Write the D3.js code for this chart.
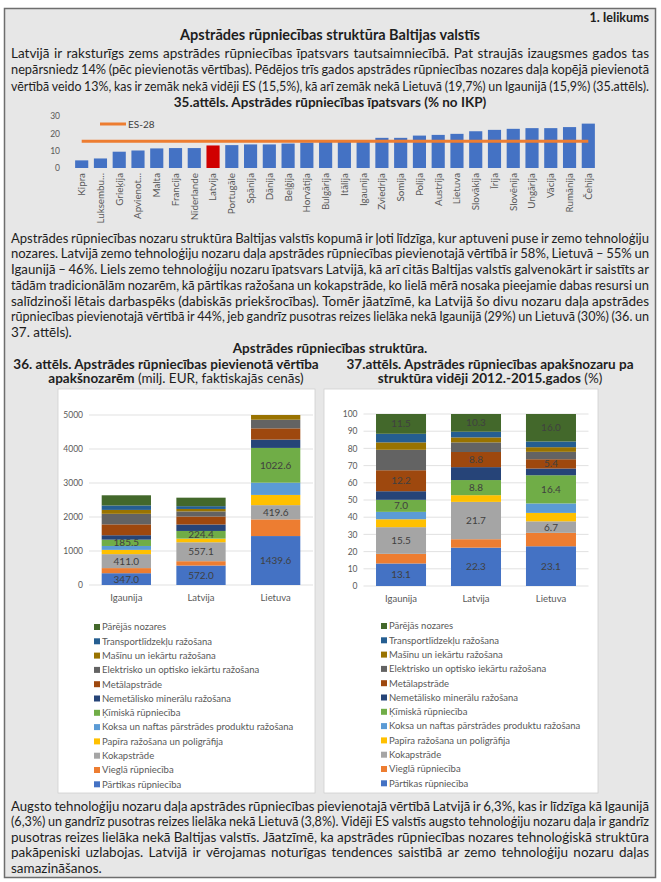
<!DOCTYPE html>
<html>
<head>
<meta charset="utf-8">
<script src="https://cdn.jsdelivr.net/npm/d3@7"></script>
<style>
body { margin: 0; background: #fff; }
svg text { font-family: Lato, "Open Sans", sans-serif; }
</style>
</head>
<body>
<svg id="page" width="661" height="882"></svg>
<script>
// 35. attēls
const countries = ['Kipra', 'Luksembu...', 'Grieķija', 'Apvienot...', 'Malta', 'Francija', 'Nīderlande', 'Latvija',
    'Portugāle', 'Spānija', 'Dānija', 'Beļģija', 'Horvātija', 'Bulgārija', 'Itālija', 'Igaunija', 'Zviedrija',
    'Somija', 'Polija', 'Austrija', 'Lietuva', 'Slovākija', 'Īrija', 'Slovēnija', 'Ungārija', 'Vācija', 'Rumānija', 'Čehija'];
const shareOfGdp = [4.4, 5.5, 9.4, 10.1, 11.3, 11.5, 11.5, 13.0, 13.2, 13.6, 13.6, 14.1, 14.7, 15.0, 15.1, 15.9, 17.4,
    17.4, 18.7, 19.1, 19.7, 21.2, 22.0, 22.6, 23.0, 23.0, 23.6, 25.6];
const es28 = 15.5;
const yTicks35 = [0, 10, 20, 30];

// 36. un 37. attēls
const baltics = ['Igaunija', 'Latvija', 'Lietuva'];
const sectors = ['Pārtikas rūpniecība', 'Vieglā rūpniecība', 'Kokapstrāde', 'Papīra ražošana un poligrāfija',
    'Koksa un naftas pārstrādes produktu ražošana', 'Ķīmiskā rūpniecība', 'Nemetālisko minerālu ražošana',
    'Metālapstrāde', 'Elektrisko un optisko iekārtu ražošana', 'Mašīnu un iekārtu ražošana',
    'Transportlīdzekļu ražošana', 'Pārējās nozares'];
const sectorColors = ['#4472C4', '#ED7D31', '#A5A5A5', '#FFC000', '#5B9BD5', '#70AD47',
    '#264478', '#9E480E', '#636363', '#997300', '#255E91', '#43682B'];

// milj. EUR
const valuesIgaunija = [347.0, 150, 411.0, 125, 115, 185.5, 130, 320, 310, 115, 130, 300];
const valuesLatvija = [572.0, 128, 557.1, 105, 3, 224.4, 190, 235, 150, 72, 82, 250];
const valuesLietuva = [1439.6, 490, 419.6, 300, 360, 1022.6, 245, 330, 255, 170, 206, 997];
const labelled36 = [0, 2, 5];
const yTicks36 = [0, 1000, 2000, 3000, 4000, 5000];

// %
const sharesIgaunija = [13.1, 5.6, 15.5, 4.6, 4.3, 7.0, 5.0, 12.2, 11.9, 4.3, 5.0, 11.5];
const sharesLatvija = [22.3, 4.9, 21.7, 3.9, 0.0, 8.8, 7.5, 8.8, 5.6, 2.9, 3.3, 10.3];
const sharesLietuva = [23.1, 7.8, 6.7, 4.9, 5.5, 16.4, 3.9, 5.4, 4.3, 2.7, 3.3, 16.0];
const labelled37 = [0, 2, 5, 7, 11];
const yTicks37 = [0, 10, 20, 30, 40, 50, 60, 70, 80, 90, 100];

// teksts
const para1 = [
    'Latvijā ir raksturīgs zems apstrādes rūpniecības īpatsvars tautsaimniecībā. Pat straujās izaugsmes gados tas',
    'nepārsniedz 14% (pēc pievienotās vērtības). Pēdējos trīs gados apstrādes rūpniecības nozares daļa kopējā pievienotā',
    'vērtībā veido 13%, kas ir zemāk nekā vidēji ES (15,5%), kā arī zemāk nekā Lietuvā (19,7%) un Igaunijā (15,9%) (35.attēls).'
];
const para2 = [
    'Apstrādes rūpniecības nozaru struktūra Baltijas valstīs kopumā ir ļoti līdzīga, kur aptuveni puse ir zemo tehnoloģiju',
    'nozares. Latvijā zemo tehnoloģiju nozaru daļa apstrādes rūpniecības pievienotajā vērtībā ir 58%, Lietuvā – 55% un',
    'Igaunijā – 46%. Liels zemo tehnoloģiju nozaru īpatsvars Latvijā, kā arī citās Baltijas valstīs galvenokārt ir saistīts ar',
    'tādām tradicionālām nozarēm, kā pārtikas ražošana un kokapstrāde, ko lielā mērā nosaka pieejamie dabas resursi un',
    'salīdzinoši lētais darbaspēks (dabiskās priekšrocības). Tomēr jāatzīmē, ka Latvijā šo divu nozaru daļa apstrādes',
    'rūpniecības pievienotajā vērtībā ir 44%, jeb gandrīz pusotras reizes lielāka nekā Igaunijā (29%) un Lietuvā (30%) (36. un',
    '37. attēls).'
];
const para3 = [
    'Augsto tehnoloģiju nozaru daļa apstrādes rūpniecības pievienotajā vērtībā Latvijā ir 6,3%, kas ir līdzīga kā Igaunijā',
    '(6,3%) un gandrīz pusotras reizes lielāka nekā Lietuvā (3,8%). Vidēji ES valstīs augsto tehnoloģiju nozaru daļa ir gandrīz',
    'pusotras reizes lielāka nekā Baltijas valstīs. Jāatzīmē, ka apstrādes rūpniecības nozares tehnoloģiskā struktūra',
    'pakāpeniski uzlabojas. Latvijā ir vērojamas noturīgas tendences saistībā ar zemo tehnoloģiju nozaru daļas',
    'samazināšanos.'
];

const svg = d3.select('#page');
const ink = '#1e1e1e';
const axisInk = '#595959';
const bodySize = 13.5;

svg.append('rect')
    .attr('x', 4.5).attr('y', 8.5).attr('width', 651).attr('height', 869)
    .attr('fill', '#e7e7e7').attr('stroke', '#6e6e6e').attr('stroke-width', 1.5);

// justified lines: words placed one by one
const measure = svg.append('text').attr('font-size', bodySize).attr('visibility', 'hidden');
function wordWidth(w) {
    measure.text(w);
    return measure.node().getComputedTextLength();
}
function paragraph(lines, y0, step) {
    const left = 11, right = 649;
    lines.forEach((line, i) => {
        const y = y0 + i * step;
        const last = i === lines.length - 1 && line.length < 60;
        if (last) {
            svg.append('text').attr('x', left).attr('y', y).attr('dy', '0.35em')
                .attr('font-size', bodySize).attr('fill', ink).text(line);
            return;
        }
        const words = line.split(' ');
        let widths = words.map(wordWidth);
        let scale = 1;
        const minGap = 2.6;
        const room = right - left - minGap * (words.length - 1);
        if (d3.sum(widths) > room) scale = room / d3.sum(widths);
        widths = widths.map(w => w * scale);
        const gap = (right - left - d3.sum(widths)) / (words.length - 1);
        let x = left;
        words.forEach((w, j) => {
            const t = svg.append('text').attr('x', x).attr('y', y).attr('dy', '0.35em')
                .attr('font-size', bodySize).attr('fill', ink).text(w);
            if (scale < 1) t.attr('textLength', widths[j]).attr('lengthAdjust', 'spacingAndGlyphs');
            x += widths[j] + gap;
        });
    });
}
function heading(str, x, y, size, anchor) {
    svg.append('text').attr('x', x).attr('y', y).attr('dy', '0.35em')
        .attr('font-size', size).attr('font-weight', 'bold').attr('fill', ink)
        .attr('text-anchor', anchor || 'middle').text(str);
}

heading('1. Ielikums', 649, 18, 12.5, 'end');
heading('Apstrādes rūpniecības struktūra Baltijas valstīs', 330, 35, 14.5);
paragraph(para1, 53, 16.5);
heading('35.attēls. Apstrādes rūpniecības īpatsvars (% no IKP)', 330, 102, 13.5);

// ---- 35. attēls ----
const x35 = d3.scaleBand().domain(countries).range([69.5, 600.5]).padding(0.3);
const y35 = d3.scaleLinear().domain([0, 30]).range([168, 116]);

svg.append('g').selectAll('rect')
    .data(countries)
    .join('rect')
    .attr('x', d => x35(d))
    .attr('y', (d, i) => y35(shareOfGdp[i]))
    .attr('width', x35.bandwidth())
    .attr('height', (d, i) => y35(0) - y35(shareOfGdp[i]))
    .attr('fill', d => d === 'Latvija' ? '#D00000' : '#4472C4');

const esLine = d3.line()
    .x(d => x35(d) + x35.bandwidth() / 2)
    .y(() => y35(es28));
svg.append('path')
    .datum(countries)
    .attr('d', esLine)
    .attr('fill', 'none')
    .attr('stroke', '#ED7D31')
    .attr('stroke-width', 3);

const yAxis35 = svg.append('g')
    .attr('transform', 'translate(62,0)')
    .call(d3.axisLeft(y35).tickValues(yTicks35).tickSize(0).tickPadding(2));
yAxis35.select('.domain').remove();
yAxis35.selectAll('text').attr('font-size', 8.5).attr('fill', axisInk).style('font-family', 'Lato, sans-serif');

const xAxis35 = svg.append('g')
    .attr('transform', 'translate(0,168)')
    .call(d3.axisBottom(x35).tickSize(0));
xAxis35.select('.domain').remove();
xAxis35.selectAll('text')
    .attr('transform', 'rotate(-90)')
    .attr('text-anchor', 'end')
    .attr('x', -5).attr('y', 0).attr('dy', '0.35em')
    .attr('font-size', 9.8).attr('fill', axisInk)
    .style('font-family', 'Lato, sans-serif');

svg.append('line').attr('x1', 100).attr('x2', 126).attr('y1', 124).attr('y2', 124)
    .attr('stroke', '#ED7D31').attr('stroke-width', 3);
svg.append('text').attr('x', 128).attr('y', 124).attr('dy', '0.35em')
    .attr('font-size', 10).attr('fill', '#404040').text('ES-28');

paragraph(para2, 238, 15.7);
heading('Apstrādes rūpniecības struktūra.', 330, 348, 13.5);

// chart titles
heading('36. attēls. Apstrādes rūpniecības pievienotā vērtība', 166, 364, 13.5);
const t36 = svg.append('text').attr('x', 176).attr('y', 378.5).attr('dy', '0.35em')
    .attr('font-size', 13.5).attr('fill', ink).attr('text-anchor', 'middle');
t36.append('tspan').attr('font-weight', 'bold').text('apakšnozarēm');
t36.append('tspan').text(' (milj. EUR, faktiskajās cenās)');

heading('37.attēls. Apstrādes rūpniecības apakšnozaru pa', 490, 364, 13.5);
const t37 = svg.append('text').attr('x', 490).attr('y', 378.5).attr('dy', '0.35em')
    .attr('font-size', 13.5).attr('fill', ink).attr('text-anchor', 'middle');
t37.append('tspan').attr('font-weight', 'bold').text('struktūra vidēji 2012.-2015.gados');
t37.append('tspan').text(' (%)');

// panels
svg.append('rect').attr('x', 58).attr('y', 389).attr('width', 257).attr('height', 404)
    .attr('fill', '#fff').attr('stroke', '#d0d0d0').attr('stroke-width', 0.8);
svg.append('rect').attr('x', 324).attr('y', 389).attr('width', 274).attr('height', 404)
    .attr('fill', '#fff').attr('stroke', '#d0d0d0').attr('stroke-width', 0.8);

function stackedChart(opts) {
    const rows = baltics.map((c, ci) => {
        const row = { country: c };
        sectors.forEach((s, si) => { row[s] = opts.series[ci][si]; });
        return row;
    });
    const stacked = d3.stack().keys(sectors)(rows);
    const x = d3.scaleBand().domain(baltics).range(opts.xRange)
        .paddingInner(opts.padInner).paddingOuter(opts.padOuter);
    const y = d3.scaleLinear().domain(opts.yDomain).range([opts.y0, opts.y1]);

    const grid = svg.append('g');
    grid.selectAll('line')
        .data(opts.ticks)
        .join('line')
        .attr('x1', opts.xRange[0]).attr('x2', opts.xRange[1])
        .attr('y1', d => y(d)).attr('y2', d => y(d))
        .attr('stroke', '#d9d9d9').attr('stroke-width', 0.8);

    const yAxis = svg.append('g')
        .attr('transform', `translate(${opts.xRange[0] - 3},0)`)
        .call(d3.axisLeft(y).tickValues(opts.ticks).tickFormat(d3.format('d')).tickSize(0).tickPadding(3));
    yAxis.select('.domain').remove();
    yAxis.selectAll('text').attr('font-size', 8.5).attr('fill', axisInk).style('font-family', 'Lato, sans-serif');

    const clipId = 'clip' + opts.id;
    svg.append('clipPath').attr('id', clipId).append('rect')
        .attr('x', opts.xRange[0]).attr('y', opts.y1)
        .attr('width', opts.xRange[1] - opts.xRange[0]).attr('height', opts.y0 - opts.y1);

    const bars = svg.append('g').attr('clip-path', `url(#${clipId})`);
    bars.selectAll('g')
        .data(stacked)
        .join('g')
        .attr('fill', (d, i) => sectorColors[i])
        .selectAll('rect')
        .data(d => d)
        .join('rect')
        .attr('x', d => x(d.data.country))
        .attr('y', d => y(d[1]))
        .attr('width', x.bandwidth())
        .attr('height', d => y(d[0]) - y(d[1]));

    const labels = svg.append('g').attr('clip-path', `url(#${clipId})`);
    stacked.filter((s, i) => opts.labelled.includes(i)).forEach(s => {
        labels.selectAll(null)
            .data(s)
            .join('text')
            .attr('x', d => x(d.data.country) + x.bandwidth() / 2)
            .attr('y', d => y((d[0] + d[1]) / 2))
            .attr('dy', '0.35em')
            .attr('text-anchor', 'middle')
            .attr('font-size', 10)
            .attr('fill', '#404040')
            .text(d => (d[1] - d[0]).toFixed(1));
    });

    const xAxis = svg.append('g')
        .attr('transform', `translate(0,${opts.y0})`)
        .call(d3.axisBottom(x).tickSize(0).tickPadding(9));
    xAxis.select('.domain').remove();
    xAxis.selectAll('text').attr('font-size', 9.5).attr('fill', axisInk).style('font-family', 'Lato, sans-serif');

    const legend = svg.append('g');
    const items = sectors.map((s, i) => ({ s, c: sectorColors[i] })).reverse();
    items.forEach((d, i) => {
        const ly = opts.legendY + i * 14.3;
        legend.append('rect').attr('x', opts.legendX).attr('y', ly - 3).attr('width', 6).attr('height', 6).attr('fill', d.c);
        legend.append('text').attr('x', opts.legendX + 8).attr('y', ly).attr('dy', '0.35em')
            .attr('font-size', 9.5).attr('fill', axisInk).text(d.s);
    });
}

stackedChart({
    id: 36,
    series: [valuesIgaunija, valuesLatvija, valuesLietuva],
    labelled: labelled36,
    ticks: yTicks36,
    yDomain: [0, 5000],
    y0: 585, y1: 415,
    xRange: [89, 313], padInner: 0.34, padOuter: 0.17,
    legendX: 94, legendY: 627
});
stackedChart({
    id: 37,
    series: [sharesIgaunija, sharesLatvija, sharesLietuva],
    labelled: labelled37,
    ticks: yTicks37,
    yDomain: [0, 100],
    y0: 586, y1: 414,
    xRange: [363.5, 588.5], padInner: 0.333, padOuter: 0.167,
    legendX: 381, legendY: 626
});

paragraph(para3, 806, 15.5);
</script>
</body>
</html>
